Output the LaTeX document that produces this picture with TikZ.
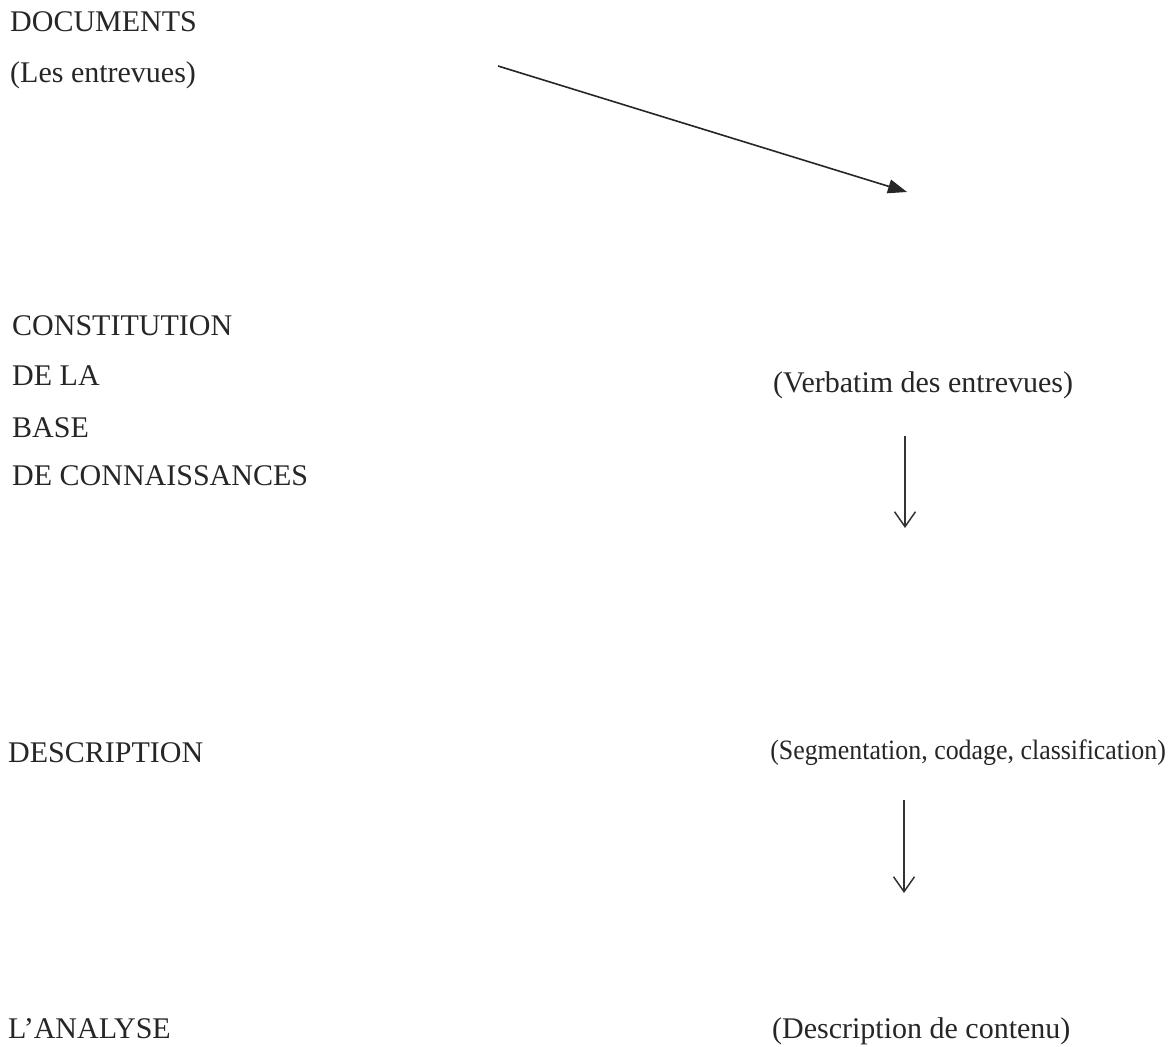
\documentclass[tikz,border=0pt]{standalone}
\usepackage{fontspec}
\setmainfont{Liberation Serif}
\usetikzlibrary{arrows.meta}
\begin{document}
\begin{tikzpicture}[x=1pt,y=-1pt,
  lbl/.style={anchor=base west,inner sep=0pt,font=\fontsize{30}{36}\selectfont,text=black!85},
  lblr/.style={anchor=base east,inner sep=0pt,font=\fontsize{28}{34}\selectfont,text=black!85},
  diag/.style={line width=1.6pt,draw=black!85,-{Triangle[length=19pt,width=14pt]}},
  down/.style={line width=1.5pt,draw=black!80,-{Straight Barb[length=15pt,width=21pt,line width=1.5pt]}}]
\useasboundingbox (0,0) rectangle (1173,1047);
\node[lbl] (doc) at (10,31) {DOCUMENTS};
\node[lbl] (ent) at (10,82) {(Les entrevues)};
\node[lbl] (c1) at (12,335) {CONSTITUTION};
\node[lbl] (c2) at (12,385) {DE LA};
\node[lbl] (c3) at (12,437) {BASE};
\node[lbl] (c4) at (12,485) {DE CONNAISSANCES};
\node[lbl] (verb) at (773,392) {(Verbatim des entrevues)};
\node[lbl] (desc) at (8,762) {DESCRIPTION};
\node[lblr,xscale=0.925,transform shape] (seg) at (1166,759) {(Segmentation, codage, classification)};
\node[lbl] (ana) at (8,1038) {L’ANALYSE};
\node[lbl] (cont) at (772,1038) {(Description de contenu)};
\coordinate (d1) at (498,66);
\coordinate (d2) at (907,192);
\coordinate (v1) at (905,436);
\coordinate (v2) at (905,528);
\coordinate (w1) at (904,800);
\coordinate (w2) at (904,893);
\draw[diag] (d1) -- (d2);
\draw[down] (v1) -- (v2);
\draw[down] (w1) -- (w2);
\end{tikzpicture}
\end{document}
